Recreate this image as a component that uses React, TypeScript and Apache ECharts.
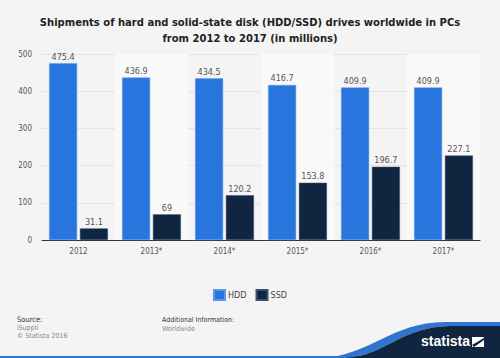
import React, { useEffect, useRef } from "react";
import * as echarts from "echarts";

const categories = ["2012", "2013*", "2014*", "2015*", "2016*", "2017*"];
const hdd = [475.4, 436.9, 434.5, 416.7, 409.9, 409.9];
const ssd = [31.1, 69, 120.2, 153.8, 196.7, 227.1];
const ssdLabels = ["31.1", "69", "120.2", "153.8", "196.7", "227.1"];

export default function App() {
  const ref = useRef<HTMLDivElement>(null);
  useEffect(() => {
    if (!ref.current) return;
    echarts.graphic.registerShape(
      "waveDark",
      echarts.graphic.extendPath("M345 358 C 385 356, 400 327, 450 326 L 500 326 L 500 358 Z", {})
    );
    echarts.graphic.registerShape(
      "waveBlue",
      echarts.graphic.extendPath("M320 358 C 370 356, 392 322, 445 322 L 500 322 L 500 326 L 450 326 C 400 327, 385 356, 345 358 Z", {})
    );
    const chart = echarts.init(ref.current, null, { renderer: "svg" });
    const font = "'DejaVu Sans Condensed', 'DejaVu Sans', sans-serif";
    const labelStyle = { show: true, position: "top", color: "#555", fontSize: 9, fontFamily: font, distance: 2 };
    chart.setOption({
      animation: false,
      backgroundColor: "#f4f4f4",
      title: {
        text: "Shipments of hard and solid-state disk (HDD/SSD) drives worldwide in PCs\nfrom 2012 to 2017 (in millions)",
        left: "center",
        top: 9,
        textStyle: { fontFamily: "DejaVu Sans", fontWeight: "bold", fontSize: 10, color: "#222", lineHeight: 16 },
      },
      grid: { left: 42, right: 20, top: 54, bottom: 118 },
      legend: {
        bottom: 52,
        left: "center",
        itemWidth: 11,
        itemHeight: 10,
        itemGap: 9,
        icon: "rect",
        textStyle: { fontFamily: font, fontSize: 9, color: "#444", padding: [0, 0, 0, -2] },
        data: ["HDD", "SSD"],
      },
      xAxis: {
        type: "category",
        data: categories,
        axisLine: { lineStyle: { color: "#333", width: 1 } },
        axisTick: { show: false },
        axisLabel: { color: "#555", fontSize: 8, fontFamily: font, margin: 7 },
        splitArea: { show: true, areaStyle: { color: ["rgba(0,0,0,0)", "#f9f9f9"] } },
      },
      yAxis: {
        type: "value",
        min: 0,
        max: 500,
        interval: 100,
        axisLine: { show: false },
        axisTick: { show: false },
        axisLabel: { color: "#555", fontSize: 8, fontFamily: font, margin: 10 },
        splitLine: { lineStyle: { color: "#e4e4e4", width: 1 } },
      },
      series: [
        {
          name: "HDD",
          type: "bar",
          data: hdd,
          barWidth: 28,
          barGap: "10%",
          itemStyle: { color: "#2876dd", borderColor: "#5a98ea", borderWidth: 0.5 },
          label: labelStyle,
        },
        {
          name: "SSD",
          type: "bar",
          data: ssd,
          barWidth: 28,
          itemStyle: { color: "#0f2540", borderColor: "#3a5270", borderWidth: 0.5 },
          label: { ...labelStyle, formatter: (p: any) => ssdLabels[p.dataIndex] },
        },
      ],
      graphic: [
        { type: "text", left: 17, top: 315, style: { text: "Source:", fontSize: 7.5, fill: "#333", fontFamily: font } },
        { type: "text", left: 17, top: 324, style: { text: "iSuppli", fontSize: 7, fill: "#888", fontFamily: font } },
        { type: "text", left: 17, top: 332, style: { text: "© Statista 2016", fontSize: 7, fill: "#888", fontFamily: font } },
        { type: "text", left: 162, top: 316, style: { text: "Additional Information:", fontSize: 7, fill: "#333", fontFamily: font } },
        { type: "text", left: 162, top: 325, style: { text: "Worldwide", fontSize: 7, fill: "#888", fontFamily: font } },
        { type: "rect", shape: { x: 0, y: 356, width: 500, height: 2 }, style: { fill: "#2876dd" } },
        { type: "waveBlue", x: 0, y: 0, style: { fill: "#2e74d0" } },
        { type: "waveDark", x: 0, y: 0, style: { fill: "#0f2540" } },
        { type: "text", left: 421, top: 334, style: { text: "statista", fontSize: 14, fontWeight: "bold", fill: "#fff", fontFamily: "'Liberation Sans', Arial, sans-serif" } },
        { type: "rect", shape: { x: 472, y: 337, width: 12, height: 10 }, style: { fill: "#fff" } },
        { type: "polygon", shape: { points: [[472, 345], [484, 338], [484, 340], [474, 347]] }, style: { fill: "#0f2540" } },
      ],
    });
    return () => chart.dispose();
  }, []);
  return <div ref={ref} style={{ width: 500, height: 358, position: "absolute", left: 0, top: 0 }} />;
}
